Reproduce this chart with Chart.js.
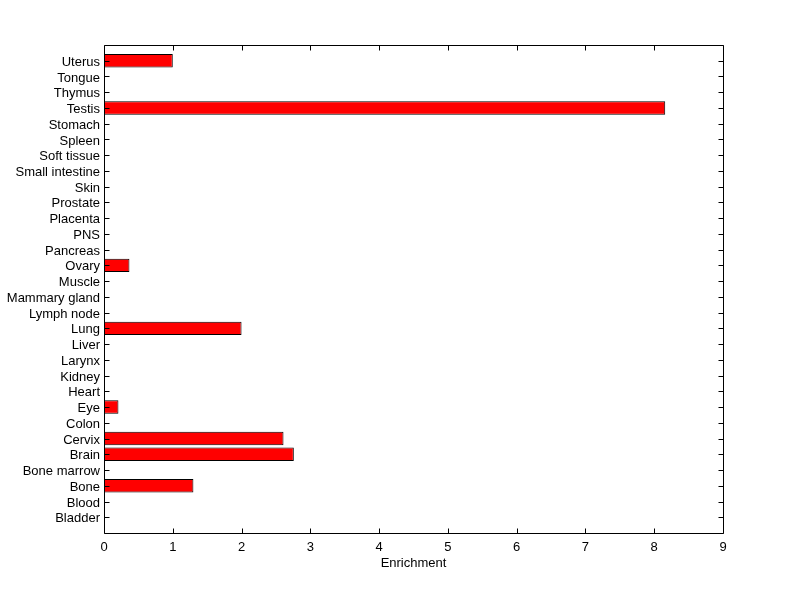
<!DOCTYPE html>
<html><head><meta charset="utf-8">
<script src="https://cdn.jsdelivr.net/npm/chart.js@4/dist/chart.umd.min.js"></script>
<style>html,body{margin:0;padding:0;background:#fff}#wrap{width:800px;height:599px}</style>
</head><body><div id="wrap"><canvas id="c" width="800" height="599"></canvas></div>
<script>
const categories = ["Uterus","Tongue","Thymus","Testis","Stomach","Spleen","Soft tissue","Small intestine","Skin","Prostate","Placenta","PNS","Pancreas","Ovary","Muscle","Mammary gland","Lymph node","Lung","Liver","Larynx","Kidney","Heart","Eye","Colon","Cervix","Brain","Bone marrow","Bone","Blood","Bladder"];
const enrichment = [1.0,0,0,8.16,0,0,0,0,0,0,0,0,0,0.37,0,0,0,2.0,0,0,0,0,0.21,0,2.61,2.76,0,1.30,0,0];
const xTicks = [0,1,2,3,4,5,6,7,8,9];

const labels = [""].concat(categories, [""]);
const values = [null].concat(enrichment.map(v => v > 0 ? v : null), [null]);

const FONT = {family: "'Liberation Sans', Arial, Helvetica, sans-serif", size: 13};

const boxTicks = {
  id: 'boxTicks',
  afterDraw(chart) {
    const {ctx, chartArea: a, scales} = chart;
    ctx.save();
    ctx.strokeStyle = '#000';
    ctx.lineWidth = 1;
    ctx.beginPath();
    const L = a.left + 0.5, R = a.right + 0.5, T = a.top + 0.5, B = a.bottom + 0.5;
    ctx.rect(L, T, R - L, B - T);
    const tl = 5;
    xTicks.forEach(v => {
      const x = Math.round(scales.x.getPixelForValue(v)) + 0.5;
      ctx.moveTo(x, B); ctx.lineTo(x, B - tl);
      ctx.moveTo(x, T); ctx.lineTo(x, T + tl);
    });
    categories.forEach((c, i) => {
      const y = Math.round(scales.y.getPixelForValue(i + 1)) + 0.5;
      ctx.moveTo(L, y); ctx.lineTo(L + tl, y);
      ctx.moveTo(R, y); ctx.lineTo(R - tl, y);
    });
    ctx.stroke();
    ctx.restore();
  }
};

new Chart(document.getElementById('c'), {
  type: 'bar',
  data: {
    labels: labels,
    datasets: [{
      data: values,
      backgroundColor: '#ff0000',
      borderColor: '#000000',
      borderWidth: 1,
      borderSkipped: false,
      barPercentage: 0.85,
      categoryPercentage: 1.0
    }]
  },
  options: {
    indexAxis: 'y',
    responsive: false,
    animation: false,
    maintainAspectRatio: false,
    layout: {padding: {top: 45, right: 77, left: 0, bottom: 0}},
    plugins: {legend: {display: false}, tooltip: {enabled: false}},
    scales: {
      x: {
        type: 'linear', min: 0, max: 9,
        grid: {display: false, drawTicks: false},
        border: {display: false},
        ticks: {stepSize: 1, color: '#000', font: FONT, padding: 7, maxRotation: 0},
        title: {display: true, text: 'Enrichment', color: '#000', font: FONT, padding: {top: 0, bottom: 28}},
        afterFit(s) { s.height = 66; }
      },
      y: {
        type: 'category', offset: false,
        grid: {display: false, drawTicks: false, offset: false},
        border: {display: false},
        ticks: {color: '#000', font: FONT, padding: 4, autoSkip: false, labelOffset: 1.5},
        afterFit(s) { s.width = 104; }
      }
    }
  },
  plugins: [boxTicks]
});
</script>
</body></html>
